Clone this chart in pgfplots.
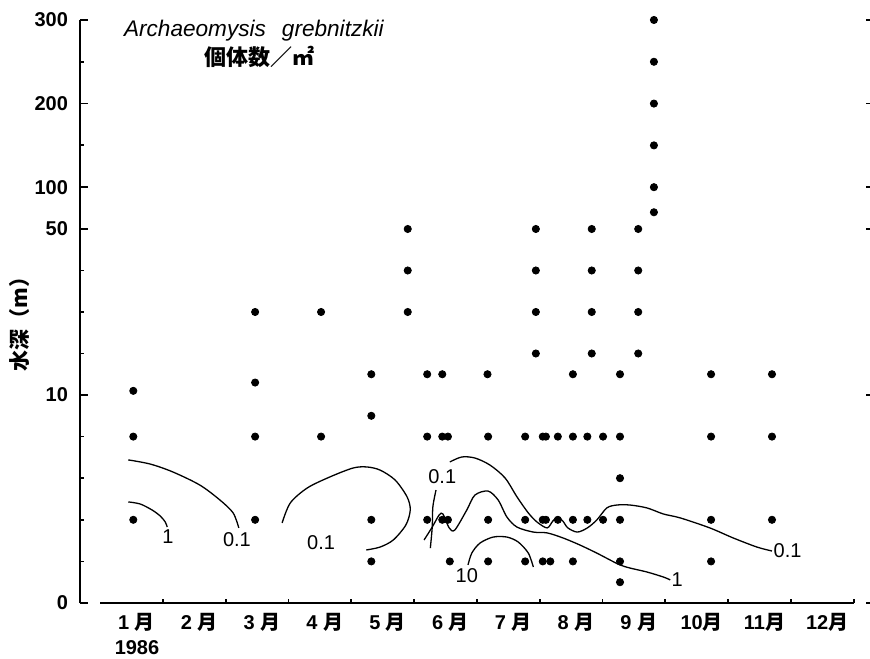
\documentclass[border=0pt]{standalone}
\usepackage{fontspec}
\usepackage{pgfplots}
\usepackage{pgfplotstable}
\pgfplotsset{compat=1.18}
\setmainfont{Liberation Sans}
\newfontfamily\cjk{Noto Sans CJK JP}
\newcommand\tsuki{{\cjk\bfseries 月}}

% sampling dots: month (0 = start of Jan) and depth (m)
\pgfplotstableread{
m d
0.53 11
0.53 8
0.53 4
2.47 30
2.47 13
2.47 8
2.47 4
3.52 30
3.52 8
4.32 15
4.32 9
4.32 4
4.32 2
4.90 50
4.90 40
4.90 30
5.21 15
5.21 8
5.21 4
5.45 15
5.45 8
5.45 4
5.54 8
5.54 4
5.57 2
6.17 15
6.18 8
6.18 4
6.18 2
6.77 8
6.77 4
6.77 2
6.94 50
6.94 40
6.94 30
6.94 20
7.05 8
7.05 4
7.05 2
7.10 8
7.10 4
7.17 2
7.29 8
7.29 4
7.53 15
7.53 8
7.53 4
7.53 2
7.76 8
7.76 4
7.83 50
7.83 40
7.83 30
7.83 20
8.01 8
8.01 4
8.28 15
8.28 8
8.28 6
8.28 4
8.28 2
8.28 1
8.57 50
8.57 40
8.57 30
8.57 20
8.82 70
8.82 100
8.82 150
8.82 200
8.82 250
8.82 300
9.73 15
9.73 8
9.73 4
9.73 2
10.70 15
10.70 8
10.70 4
}\dots

\pgfplotsset{
  depthtrafo/.style={
    y coord trafo/.code={\pgfmathparse{min(20.8*(##1),208+4.15*((##1)-10),374+0.836*((##1)-50))}},
  },
  basegeom/.style={
    at={(0,0)}, anchor=south west,
    scale only axis, width=394pt, height=291.5pt,
    xmin=-0.3185, xmax=12.229,
    ymin=0, ymax=300,
    depthtrafo,
    clip=false,
  },
}

\begin{document}
\begin{tikzpicture}
\useasboundingbox (-40pt,-27.5pt) rectangle (395pt,301.5pt);
\begin{axis}[
  basegeom,
  axis x line*=bottom, axis y line*=left,
  x axis line style={draw=none},
  y axis line style={-, line width=1pt},
  tick align=inside,
  major tick length=4pt, minor tick length=2pt,
  tick style={line width=0.9pt, black},
  xtick={0.5,1.5,2.5,3.5,4.5,5.5,6.5,7.5,8.5,9.5,10.5,11.5},
  xticklabels={1 \tsuki,2 \tsuki,3 \tsuki,4 \tsuki,5 \tsuki,6 \tsuki,7 \tsuki,8 \tsuki,9 \tsuki,10\tsuki,11\tsuki,12\tsuki},
  major x tick style={draw=none},
  minor xtick={1,2,3,4,5,6,7,8,9,10,11,12},
  ytick={0,10,50,100,200,300},
  yticklabels={0,10,50,100,200,300},
  minor ytick={2,4,6,8,20,30,40,150,250},
  ticklabel style={font=\bfseries\fontsize{10}{11}\selectfont},
  xticklabel style={xshift=2.5pt, yshift=-1.5pt},
  yticklabel style={xshift=-2.5pt},
]
\draw[line width=1pt] (axis cs:0,0) -- (axis cs:12,0);

\addplot[only marks, mark=*, mark size=1.8pt, black] table[x=m, y=d] {\dots};

% isolines
\addplot[smooth, line width=0.65pt, black] coordinates {
 (0.45,4.86) (0.64,4.76) (0.83,4.47) (0.96,4.18) (1.04,3.89) (1.07,3.65)};
\addplot[smooth, line width=0.65pt, black] coordinates {
 (0.45,6.88) (0.80,6.68) (1.16,6.30) (1.59,5.67) (1.91,4.95) (2.12,4.33) (2.21,3.61)};
\addplot[smooth, line width=0.65pt, black] coordinates {
 (2.90,3.85) (3.03,4.81) (3.30,5.53) (3.66,6.06) (4.03,6.49) (4.25,6.54) (4.46,6.39)
 (4.70,5.91) (4.89,5.10) (4.94,4.47) (4.87,3.75) (4.67,3.03) (4.46,2.69) (4.24,2.55)};
\addplot[smooth, line width=0.65pt, black] coordinates {
 (5.35,5.43) (5.30,4.62) (5.29,3.65) (5.26,2.64)};
\addplot[smooth, line width=0.65pt, black] coordinates {
 (5.16,3.03) (5.29,3.65) (5.40,4.23) (5.46,4.28) (5.56,3.61) (5.65,3.51) (5.84,4.47)
 (5.97,5.19) (6.18,5.38) (6.34,4.95) (6.48,4.13) (6.64,3.65) (6.90,3.41) (7.12,3.37)
 (7.37,3.13) (7.64,2.79) (7.91,2.40) (8.12,2.07) (8.28,1.83) (8.44,1.68) (8.71,1.49)
 (8.97,1.25) (9.08,1.11)};
\addplot[smooth, line width=0.65pt, black] coordinates {
 (5.57,6.78) (5.76,7.02) (5.97,6.97) (6.21,6.63) (6.45,6.01) (6.64,5.10) (6.82,4.33)
 (6.96,3.89) (7.12,3.61) (7.21,3.94) (7.29,4.13) (7.37,3.94) (7.45,3.61) (7.60,3.41)
 (7.76,3.61) (7.91,3.99) (8.07,4.57) (8.23,4.71) (8.44,4.71) (8.71,4.57) (8.97,4.28)
 (9.24,4.09) (9.71,3.61) (10.08,3.13) (10.46,2.69) (10.70,2.50)};
\addplot[smooth, line width=0.65pt, black] coordinates {
 (5.86,1.83) (5.92,2.40) (6.05,2.88) (6.26,3.17) (6.48,3.17) (6.66,2.93) (6.82,2.40) (6.90,1.73)};

\begin{scope}[every node/.style={font=\fontsize{10}{11}\selectfont, inner sep=0pt}]
\node at (axis cs:1.08,3.17) {1};
\node at (axis cs:2.18,3.03) {0.1};
\node at (axis cs:3.52,2.88) {0.1};
\node at (axis cs:5.45,6.06) {0.1};
\node at (axis cs:5.84,1.30) {10};
\node at (axis cs:9.19,1.11) {1};
\node[anchor=west] at (axis cs:10.72,2.50) {0.1};
\end{scope}
\end{axis}

% right-hand tick dashes
\begin{axis}[
  basegeom,
  axis y line*=right, axis x line=none,
  y axis line style={draw=none},
  ytick={0,10,50,100,200,300}, yticklabels={},
  tick align=center, major tick length=2.5pt,
  tick style={line width=0.9pt, black},
]
\addplot[draw=none, forget plot] coordinates {(1,1)};
\end{axis}

\node[anchor=west, font=\itshape\fontsize{11.3}{12}\selectfont] at (18.5pt,286pt) {Archaeomysis\hspace{8pt}grebnitzkii};
\node[font=\cjk\bfseries\fontsize{11}{12}\selectfont] at (89.5pt,273pt) {個体数／㎡};
\node[rotate=90, font=\cjk\bfseries\fontsize{10.5}{11}\selectfont] at (-30pt,142pt) {水深（m）};
\node[font=\bfseries\fontsize{10}{11}\selectfont] at (28.5pt,-22.5pt) {1986};
\end{tikzpicture}
\end{document}
